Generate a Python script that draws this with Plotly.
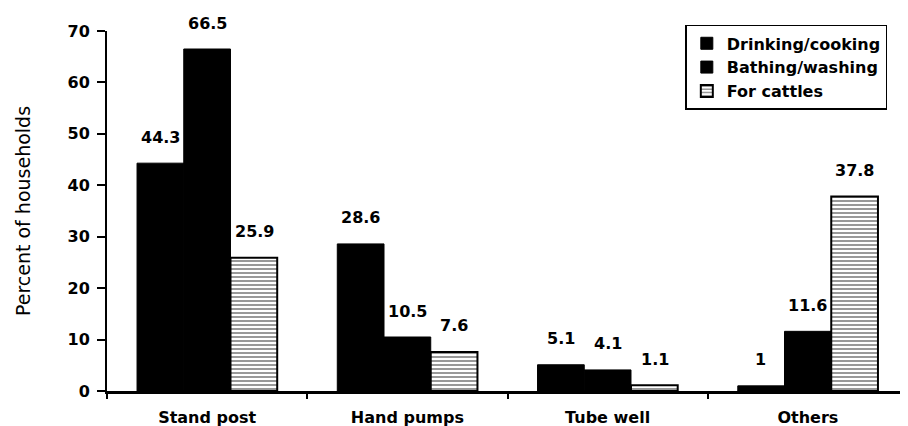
import plotly.graph_objects as go

categories = ["Stand post", "Hand pumps", "Tube well", "Others"]
drinking = [44.3, 28.6, 5.1, 1]
bathing = [66.5, 10.5, 4.1, 11.6]
cattles = [25.9, 7.6, 1.1, 37.8]
series_names = ["Drinking/cooking", "Bathing/washing", "For cattles"]
y_ticks = [0, 10, 20, 30, 40, 50, 60, 70]

bold_font = "DejaVu Sans, Arial, sans-serif"

fig = go.Figure()
fig.add_trace(go.Bar(name=series_names[0], x=categories, y=drinking,
                     marker=dict(color="black", line=dict(color="black", width=1))))
fig.add_trace(go.Bar(name=series_names[1], x=categories, y=bathing,
                     marker=dict(color="black", line=dict(color="black", width=1))))
fig.add_trace(go.Bar(name=series_names[2], x=categories, y=cattles,
                     marker=dict(color="white", line=dict(color="black", width=2),
                                 pattern=dict(shape="-", fgcolor="black", bgcolor="white",
                                              size=4, solidity=0.4))))

# value labels above bars
offsets = [-1, 0, 1]
for k, vals in enumerate([drinking, bathing, cattles]):
    for i, v in enumerate(vals):
        fig.add_annotation(x=i, y=v, xref="x", yref="y", text=f"{v:g}",
                           showarrow=False, yshift=26, xshift=offsets[k] * 47,
                           font=dict(family=bold_font, size=16, color="black", weight="bold"))

fig.update_layout(
    width=900, height=418,
    margin=dict(l=99, r=0, t=23, b=35),
    plot_bgcolor="white", paper_bgcolor="white",
    barmode="group", bargap=0.3, bargroupgap=0,
    font=dict(family=bold_font, color="black"),
    showlegend=True,
    legend=dict(x=0.722, y=1.017, xanchor="left", yanchor="top",
                bordercolor="black", borderwidth=1.5, bgcolor="white",
                font=dict(family=bold_font, size=16, color="black", weight="bold"),
                itemwidth=30),
)
fig.update_xaxes(showline=True, linecolor="black", linewidth=2.5,
                 ticks="outside", ticklen=5, tickcolor="black", tickwidth=1.5,
                 tickson="boundaries", ticklabelstandoff=10,
                 showgrid=False, automargin=False,
                 tickfont=dict(family=bold_font, size=16, color="black", weight="bold"))
fig.update_yaxes(range=[0, 70], tickvals=y_ticks, showline=True, linecolor="black",
                 linewidth=2, ticks="outside", ticklen=8, tickcolor="black", tickwidth=2,
                 ticklabelstandoff=4,
                 showgrid=False, zeroline=False, automargin=False,
                 tickfont=dict(family=bold_font, size=16, color="black", weight="bold"),
                 title=dict(text="Percent of households", standoff=32,
                            font=dict(family=bold_font, size=19, color="black")))

fig.write_html("out.html")
